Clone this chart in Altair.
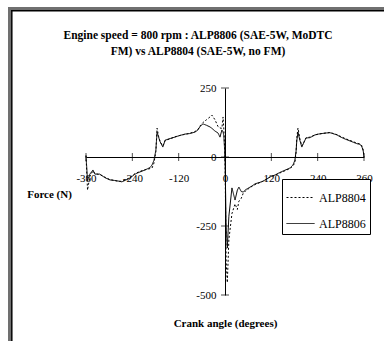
import altair as alt
import pandas as pd

# Crank angle (degrees) at which forces are sampled
angle = [-360, -356, -350, -342, -337, -324, -311, -298, -286, -277, -267, -256,
         -246, -233, -220, -207, -194, -189, -184, -179, -176, -172, -168, -161,
         -155, -142, -130, -117, -104, -91, -78, -70, -65, -57, -48, -39, -34,
         -26, -18, -13, -8, -5, -3, 0, 3, 6, 10, 18, 26, 32, 36, 42, 47, 54, 60,
         70, 78, 88, 98, 108, 117, 130, 142, 155, 168, 176, 181, 184, 186, 189,
         194, 199, 205, 210, 220, 233, 242, 251, 262, 272, 281, 290, 300, 311,
         324, 333, 342, 350, 355, 358, 360]

# Friction force (N), SAE-5W with MoDTC friction modifier
alp8806 = [5, -85, -62, -47, -62, -62, -75, -83, -85, -87, -90, -83,
           -76, -62, -54, -47, -38, -29, -12, 25, 90, 72, 55, 36,
           61, 67, 72, 78, 83, 85, 90, 98, 110, 120, 115, 109, 104,
           94, 87, 72, 98, 90, 78, 0, -250, -330, -215, -112, -156, -120, -109, -125, -127, -118, -113,
           -105, -97, -93, -88, -80, -72, -65, -56, -48, -40, -29, -12, 20, 60, 90,
           60, 36, 55, 69, 70, 80, 83, 85, 87, 88, 84, 80, 72, 65,
           58, 53, 48, 46, 35, 22, 0]

# Friction force (N), SAE-5W without friction modifier
alp8804 = [5, -120, -70, -50, -60, -64, -73, -82, -85, -88, -88, -82,
           -74, -60, -52, -46, -42, -40, -22, 20, 105, 75, 55, 40,
           60, 66, 73, 78, 82, 86, 92, 100, 112, 125, 135, 145, 152,
           135, 110, 105, 104, 145, 100, 0, -380, -455, -300, -205, -170, -190, -160, -150, -132, -122, -116,
           -106, -100, -94, -88, -80, -72, -66, -58, -50, -42, -33, -20, 15, 70, 105,
           65, 40, 55, 70, 72, 80, 83, 85, 87, 89, 85, 81, 74, 67,
           60, 55, 50, 47, 40, 25, 0]

x_ticks = [-360, -240, -120, 0, 120, 240, 360]
y_ticks = [-500, -250, 0, 250]
series_names = ["ALP8804", "ALP8806"]
title_lines = ["Engine speed = 800 rpm : ALP8806 (SAE-5W, MoDTC", "FM) vs ALP8804 (SAE-5W, no FM)"]

curves = pd.concat([
    pd.DataFrame({"angle": angle, "force": alp8804, "series": "ALP8804"}),
    pd.DataFrame({"angle": angle, "force": alp8806, "series": "ALP8806"}),
])
xtick_df = pd.DataFrame({"angle": x_ticks, "force": [0] * len(x_ticks)})
ytick_df = pd.DataFrame({"angle": [0] * len(y_ticks), "force": y_ticks})

FONT = "Liberation Serif"
PLAIN_LABEL = "toString(datum.value)"

x_axis = alt.Axis(
    values=x_ticks, offset=-138, ticks=False, grid=False,
    domainColor="black", domainWidth=1,
    labelFont=FONT, labelFontSize=11, labelColor="black", labelPadding=15,
    labelFlush=False, labelOverlap=False, labelExpr=PLAIN_LABEL,
    title="Crank angle (degrees)", titleFont=FONT, titleFontSize=11,
    titleFontWeight="bold", titleColor="black",
    titleX=139, titleY=166, titleAlign="center", titleBaseline="middle",
)
y_axis = alt.Axis(
    values=y_ticks, offset=-139, ticks=False, grid=False,
    domainColor="black", domainWidth=1,
    labelFont=FONT, labelFontSize=11, labelColor="black", labelPadding=9,
    labelFlush=False, labelOverlap=False, labelExpr=PLAIN_LABEL,
    title="Force (N)", titleFont=FONT, titleFontSize=11,
    titleFontWeight="bold", titleColor="black", titleAngle=0,
    titleX=-176, titleY=106, titleAlign="center", titleBaseline="middle",
)

x_enc = alt.X("angle:Q", scale=alt.Scale(domain=[-360, 360], nice=False, zero=False), axis=x_axis)
y_enc = alt.Y("force:Q", scale=alt.Scale(domain=[-500, 250], nice=False, zero=False), axis=y_axis)

lines = alt.Chart(curves).mark_line(color="black", strokeWidth=1).encode(
    x=x_enc,
    y=y_enc,
    strokeDash=alt.StrokeDash(
        "series:N",
        scale=alt.Scale(domain=series_names, range=[[2, 2], [1, 0]]),
        legend=alt.Legend(
            title=None, orient="none", legendX=196, legendY=91,
            symbolType="stroke", symbolSize=784, symbolStrokeWidth=1,
            symbolStrokeColor="black",
            labelFont=FONT, labelFontSize=12, labelColor="black", labelOffset=4,
            strokeColor="black", padding=4, rowPadding=5, fillColor="white",
        ),
    ),
)

xt = alt.Chart(xtick_df).mark_tick(orient="vertical", size=8, thickness=1, color="black").encode(x=x_enc, y=y_enc)
yt = alt.Chart(ytick_df).mark_tick(orient="horizontal", size=8, thickness=1, color="black").encode(x=x_enc, y=y_enc)

# chart heading, two centred lines above the plot
frame_df = pd.DataFrame({"k": [0]})
frame = alt.Chart(frame_df)
heading = [
    frame.mark_text(font=FONT, fontSize=11.5, fontWeight="bold", color="black",
                    align="center", baseline="middle").encode(
        x=alt.value(112), y=alt.value(-52 + 16 * i), text=alt.value(line))
    for i, line in enumerate(title_lines)
]

# window frame along the top and left edges
top_gray = frame.mark_rule(color="#707070", strokeWidth=3).encode(
    x=alt.value(-78), x2=alt.value(300), y=alt.value(-79.5))
top_black = frame.mark_rule(color="black", strokeWidth=1.5).encode(
    x=alt.value(-75), x2=alt.value(300), y=alt.value(-77.2))
left_gray = frame.mark_rule(color="#707070", strokeWidth=3).encode(
    x=alt.value(-76.5), y=alt.value(-81), y2=alt.value(260))
left_black = frame.mark_rule(color="black", strokeWidth=1.5).encode(
    x=alt.value(-74.2), y=alt.value(-78), y2=alt.value(260))

chart = alt.layer(lines, xt, yt, *heading, top_gray, top_black, left_gray, left_black).properties(
    width=278,
    height=207,
    autosize=alt.AutoSizeParams(type="none"),
    padding={"left": 86, "top": 88, "right": 20, "bottom": 46},
    background="white",
).configure_view(stroke=None)

chart.save("out.html", embed_options={"renderer": "svg", "actions": False})
